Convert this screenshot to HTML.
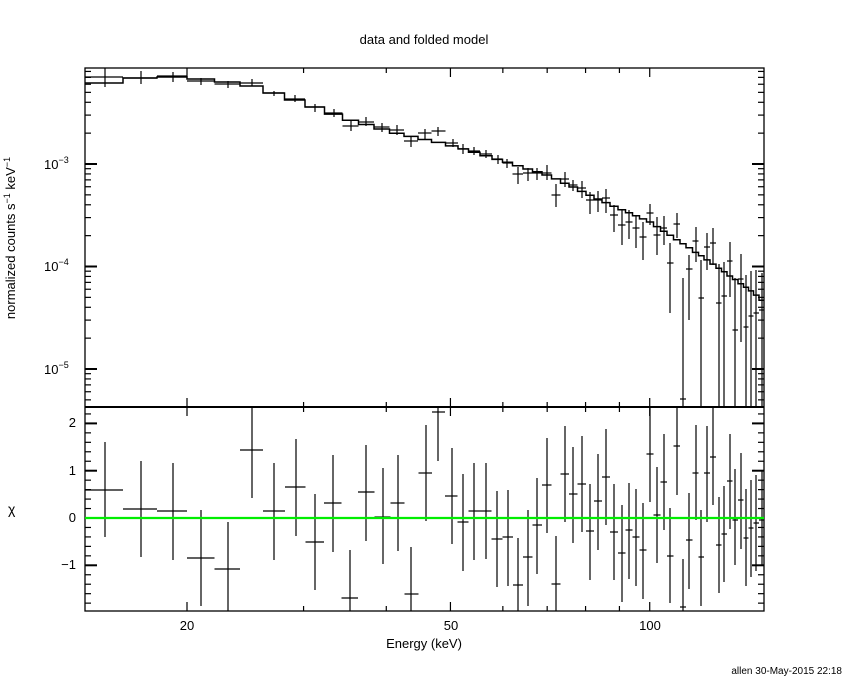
<!DOCTYPE html>
<html><head><meta charset="utf-8"><style>
body{margin:0;background:#fff;width:850px;height:680px;overflow:hidden}
text{font-family:"Liberation Sans",sans-serif;fill:#000}
</style></head><body>
<svg id="s" width="850" height="680" xmlns="http://www.w3.org/2000/svg">
<rect width="850" height="680" fill="#fff"/>
<text x="424" y="44" font-size="13" text-anchor="middle" font-family="Liberation Serif">data and folded model</text>
<text x="424" y="648" font-size="13" text-anchor="middle">Energy (keV)</text>
<text x="187" y="630" font-size="13" text-anchor="middle">20</text>
<text x="451" y="630" font-size="13" text-anchor="middle">50</text>
<text x="650" y="630" font-size="13" text-anchor="middle">100</text>
<text x="842" y="674" font-size="10" text-anchor="end">allen 30-May-2015 22:18</text>
<text transform="translate(15,238) rotate(-90)" font-size="13" text-anchor="middle">normalized counts s<tspan dy="-5" font-size="9">−1</tspan><tspan dy="5"> keV</tspan><tspan dy="-5" font-size="9">−1</tspan></text>
<text x="8" y="514" font-size="14" font-family="DejaVu Serif">χ</text>
<text x="44" y="169" font-size="13">10<tspan dy="-6" font-size="9">−3</tspan></text>
<text x="44" y="271" font-size="13">10<tspan dy="-6" font-size="9">−4</tspan></text>
<text x="44" y="374" font-size="13">10<tspan dy="-6" font-size="9">−5</tspan></text>
<text x="76" y="427" font-size="13" text-anchor="end">2</text>
<text x="76" y="475" font-size="13" text-anchor="end">1</text>
<text x="76" y="522" font-size="13" text-anchor="end">0</text>
<text x="76" y="569" font-size="13" text-anchor="end">−1</text>
<g id="g" stroke="#000" fill="none" stroke-width="1.2"></g>
</svg>
<script>
var g=document.getElementById('g'),h='';
function L(a,b,c,d,w,col){h+='<line x1="'+a+'" y1="'+b+'" x2="'+c+'" y2="'+d+'"'+(w?' stroke-width="'+w+'"':'')+(col?' stroke="'+col+'"':'')+'/>';}
var X0=85,X1=764,T=68,M=407,B=611;
function xe(E){return 187+662*Math.log10(E/20);}
h+='<rect x="85" y="68" width="679" height="543" stroke-width="1.3"/>';
L(85,M,764,M,2);
var xt=[20,30,40,50,60,70,80,90,100];
xt.forEach(function(E){var x=xe(E);var maj=(E==20||E==50||E==100)?9:5;
 L(x,T,x,T+maj);L(x,M-maj,x,M+maj);L(x,B,x,B-maj);});
for(var d=-6;d<=-3;d++)for(var k=1;k<10;k++){var v=k*Math.pow(10,d);var y=164-102.5*Math.log10(v/1e-3);if(y<T||y>M)continue;var l=k==1?12:6;L(X0,y,X0+l,y,k==1?2:1.2);L(X1,y,X1-l,y,k==1?2:1.2);}
for(var c=-1.8;c<=2.21;c+=0.2){var cc=Math.round(c*10)/10;var y=518-47.3*cc;var maj=Math.abs(cc-Math.round(cc))<0.01;var l=maj?12:6;L(X0,y,X0+l,y,maj?2:1.2);L(X1,y,X1-l,y,maj?2:1.2);}
var td=[[105,77,68,87],[141,78,71,84],[173,76,72,82],[201,81,78,85],[228,84,81,88],[252,83,79,86],[274,93,91,96],[295,99,95,102],[315,107,104,112],[334,113,109,117],[351,126,121,131],[366,122,117,126],[382,127,123,132],[397,130,125,135],[411,141,137,147],[425,133,129,139],[438,131,127,136],[453,143,139,147],[463,149,144,154],[474,151,147,155],[486,154,150,158],[498,159,155,164],[507,163,159,168],[518,174,167,184],[528,173,168,181],[537,173,168,180],[547,173,165,180],[556,195,184,207],[565,179,172,187],[573,185,180,191],[582,188,181,198],[590,200,192,214],[598,200,191,212],[606,198,189,213],[614,215,205,232],[622,225,210,245],[629,222,210,239],[636,228,215,248],[643,237,222,260],[650,213,204,225],[657,235,217,255],[664,228,216,245],[670,263,243,313],[677,224,213,238],[683,399,278,407],[689,269,255,320],[696,241,227,262],[701,298,260,407],[707,247,233,270],[713,243,228,265],[719,303,264,407],[724,296,262,407],[730,261,242,297],[735,330,278,407],[741,279,254,342],[746,327,275,407],[751,316,271,407],[756,313,270,407],[762,310,273,407]];
function edges(arr){var e=[];for(var i=0;i<arr.length;i++){var lo=i==0?85:(arr[i-1][0]+arr[i][0])/2;var hi=i==arr.length-1?764:(arr[i][0]+arr[i+1][0])/2;e.push([lo,hi]);}return e;}
var te=edges(td);
var mp=[[85,83],[105,83],[141,78],[173,77],[201,79],[228,82],[252,86],[274,93],[295,100],[315,107],[350,120],[400,134],[450,145],[500,160],[550,176],[600,200],[650,222],[700,255],[750,290],[764,302]];
function mi(x){for(var i=1;i<mp.length;i++)if(x<=mp[i][0]){var a=mp[i-1],b=mp[i];return a[1]+(b[1]-a[1])*(x-a[0])/(b[0]-a[0]);}return mp[mp.length-1][1];}
var pts=[];
td.forEach(function(d,i){var y=mi(d[0]).toFixed(1);pts.push(te[i][0]+','+y);pts.push(te[i][1]+','+y);});
h+='<polyline points="'+pts.join(' ')+'" stroke-width="1.5"/>';
td.forEach(function(d,i){L(te[i][0],d[1],te[i][1],d[1]);L(d[0],d[2],d[0],d[3]);});
var cd=[[105,490,442,537],[141,509,461,557],[173,511,463,560],[201,558,510,606],[228,569,522,611],[252,450,408,498],[274,511,463,560],[296,487,439,536],[315,542,494,590],[333,503,455,552],[350,598,550,611],[366,492,445,541],[383,517,468,564],[398,503,455,551],[411,594,547,611],[426,473,425,521],[438,412,408,461],[452,496,448,544],[463,522,474,571],[474,511,463,560],[486,511,463,559],[497,539,491,587],[508,537,490,586],[518,585,538,611],[528,557,510,606],[537,525,478,574],[547,485,438,533],[556,584,536,611],[565,474,426,522],[573,494,447,543],[582,484,436,532],[590,531,484,580],[598,501,454,550],[606,477,429,525],[614,532,484,580],[622,553,505,602],[629,530,483,579],[636,537,489,586],[643,550,503,599],[650,454,407,502],[657,515,467,563],[664,482,434,530],[670,556,508,603],[677,446,408,495],[683,607,559,611],[689,540,493,589],[696,473,425,520],[701,557,510,606],[707,473,426,522],[713,457,408,505],[719,545,497,593],[724,534,486,582],[730,481,434,529],[735,520,469,565],[741,500,453,549],[746,538,489,586],[751,528,480,577],[756,523,475,571],[762,520,470,565]];
var ce=edges(cd);
cd.forEach(function(d,i){L(ce[i][0],d[1],ce[i][1],d[1]);L(d[0],Math.max(d[2],M),d[0],Math.min(d[3],B));});
L(85,518,764,518,2.2,'#00ee00');
g.innerHTML=h;
</script>
</body></html>
